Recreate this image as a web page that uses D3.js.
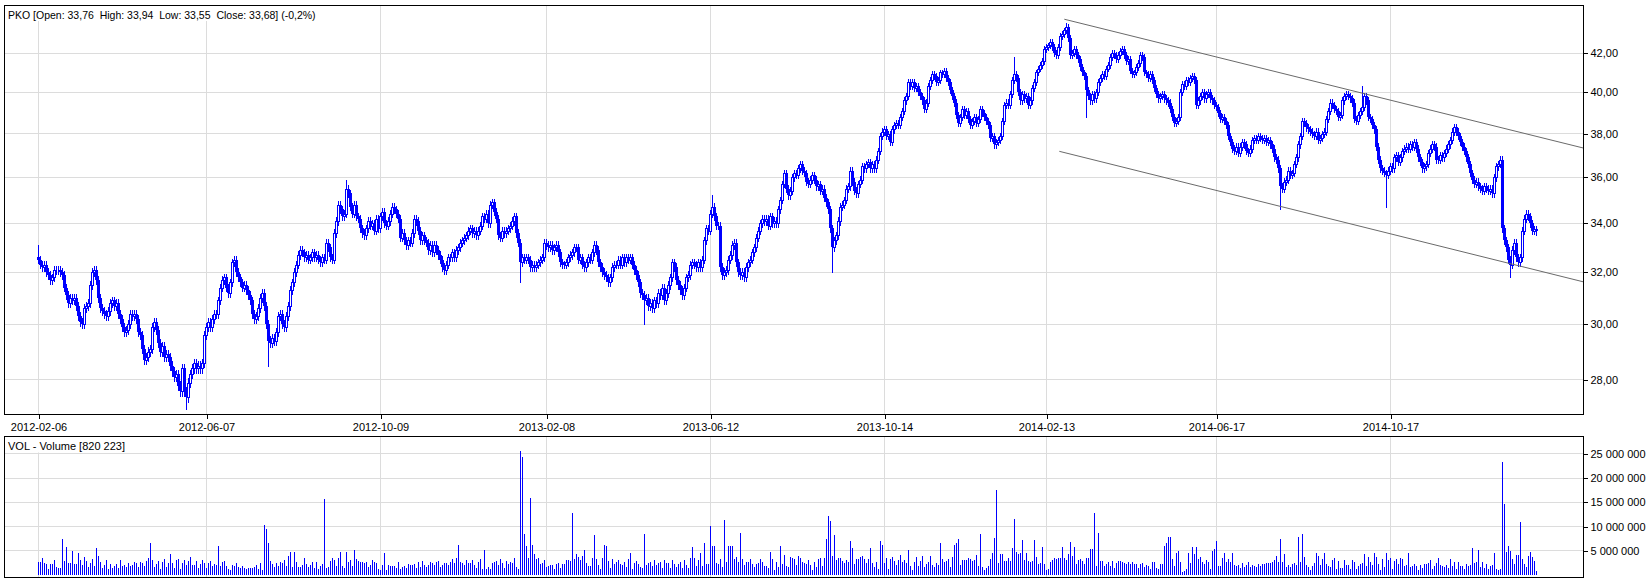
<!DOCTYPE html>
<html>
<head>
<meta charset="utf-8">
<script src="https://cdn.jsdelivr.net/npm/d3@7"></script>
<style>
body { margin: 0; background: #fff; }
text { font-family: "Liberation Sans", Arial, sans-serif; font-size: 11px; fill: #000; }
</style>
</head>
<body>
<svg id="chart" width="1652" height="582"></svg>
<script>
// PKO daily closes, 2012-02-06 .. 2015-01 (one value per trading day)
var closes = [
32.5,32.3,32.2,32.3,32.0,31.9,31.7,31.8,32.1,32.1,
32.1,32.0,31.9,31.4,31.1,30.8,31.0,30.9,31.0,30.7,
30.3,30.1,30.0,30.6,30.7,30.8,31.5,32.0,32.1,31.7,
31.0,30.6,30.5,30.4,30.3,30.5,30.8,30.9,30.7,30.8,
30.4,30.2,29.9,29.7,29.8,30.0,30.4,30.3,30.4,30.2,
29.7,29.6,29.1,28.7,28.8,29.0,29.1,29.9,30.1,29.8,
29.3,29.0,29.2,28.8,28.9,28.8,28.5,28.3,28.1,28.2,
27.8,27.6,28.4,27.6,27.4,27.9,28.2,28.4,28.6,28.4,
28.5,28.4,28.6,29.6,29.9,30.1,29.9,30.2,30.4,30.4,
30.9,31.4,31.7,31.8,31.4,31.2,31.6,32.4,32.5,32.0,
31.8,31.6,31.4,31.5,31.3,31.1,30.9,30.4,30.2,30.3,
30.6,31.0,31.2,30.7,30.0,29.4,29.3,29.5,29.4,29.7,
30.3,30.4,30.0,29.9,30.3,30.7,31.3,31.6,32.0,32.3,
32.7,32.9,32.8,32.6,32.7,32.5,32.6,32.8,32.6,32.7,
32.5,32.4,32.6,32.5,33.2,33.0,32.6,32.5,33.6,34.1,
34.8,34.6,34.3,34.4,35.5,35.3,34.7,34.4,34.8,34.3,
34.2,33.8,33.6,33.5,33.8,34.1,33.9,34.0,33.7,34.2,
33.8,34.3,34.5,34.0,33.9,34.1,34.4,34.7,34.6,34.4,
34.2,33.4,33.6,33.3,33.1,33.3,33.2,33.6,34.2,34.1,
33.7,33.3,33.5,33.3,33.2,32.9,33.1,32.8,33.1,32.9,
32.7,32.5,32.2,32.1,32.3,32.6,32.6,32.8,32.6,32.9,
33.0,33.2,33.3,33.4,33.5,33.7,33.8,33.6,33.7,33.5,
33.7,33.9,34.3,34.2,34.4,34.0,34.8,34.9,34.5,34.2,
33.5,33.4,33.7,33.6,33.7,33.8,33.9,34.1,34.3,33.6,
33.2,32.4,32.6,32.5,32.6,32.5,32.2,32.3,32.2,32.3,
32.4,32.5,32.6,33.2,33.1,33.0,33.1,32.9,33.0,33.1,
32.8,32.4,32.3,32.3,32.4,32.6,32.7,32.8,33.0,33.0,
32.5,32.6,32.3,32.2,32.4,32.6,32.5,32.8,33.1,32.9,
32.4,32.2,32.0,31.9,31.8,31.6,31.8,32.2,32.3,32.3,
32.5,32.3,32.6,32.4,32.6,32.5,32.6,32.3,32.1,31.9,
31.6,31.2,31.1,30.9,31.0,30.7,30.8,30.6,30.9,30.8,
31.2,31.1,31.4,30.9,31.2,31.5,31.8,32.4,32.2,31.7,
31.5,31.3,31.1,31.4,31.8,31.9,32.3,32.4,32.3,32.2,
32.4,32.2,32.5,33.3,33.8,33.7,34.4,34.7,34.3,33.9,
33.9,32.2,31.9,32.0,32.1,32.5,32.7,33.1,33.2,32.4,
32.0,31.9,32.0,31.8,32.2,32.4,32.5,32.8,33.0,33.4,
33.7,34.0,34.2,34.1,34.2,33.9,34.3,34.0,34.1,34.0,
34.6,35.0,35.7,36.2,35.5,35.2,35.4,36.0,36.2,36.1,
36.4,36.6,36.3,36.2,35.8,35.7,35.9,36.1,35.9,35.6,
35.7,35.4,35.5,35.1,34.9,34.6,33.8,33.0,33.3,33.5,
34.1,34.7,34.8,35.0,35.5,35.6,36.3,35.8,35.4,35.3,
35.7,35.9,36.5,36.4,36.6,36.7,36.4,36.6,36.4,36.8,
37.2,37.9,38.1,38.2,37.9,38.0,37.6,38.2,38.4,38.5,
38.4,38.8,39.1,39.6,39.8,40.5,40.3,40.5,40.2,40.3,
40.0,39.8,39.6,39.2,39.5,40.3,40.6,40.9,40.8,40.5,
40.6,41.0,40.9,41.1,40.7,40.5,40.1,39.8,39.5,38.9,
38.5,38.8,39.2,38.9,39.1,38.7,38.4,38.6,38.8,38.5,
38.7,39.2,39.0,38.8,38.6,38.4,37.8,37.9,37.5,37.6,
37.7,37.9,38.6,39.4,39.5,39.4,39.9,40.6,40.9,40.7,
40.0,39.6,39.9,39.7,39.8,39.4,39.6,40.2,40.5,41.0,
41.2,41.4,41.6,42.2,42.3,42.4,42.6,42.3,42.0,41.9,
42.3,42.9,43.0,43.2,43.4,42.8,41.9,42.0,42.2,41.9,
41.7,41.3,41.0,40.8,40.1,39.8,39.6,39.9,39.7,40.0,
40.5,40.7,40.9,40.8,41.2,41.4,41.8,42.0,41.9,41.7,
41.9,42.1,42.2,41.9,41.6,41.7,41.1,40.9,41.0,41.3,
41.5,41.9,41.8,41.0,40.9,40.7,40.9,40.6,40.2,39.9,
39.7,39.8,39.9,39.7,39.6,39.5,39.2,38.8,38.5,38.6,
38.8,40.0,40.4,40.3,40.6,40.5,40.7,40.8,40.6,39.4,
39.6,39.8,40.0,39.7,39.9,40.0,39.7,39.6,39.4,39.3,
39.0,38.7,38.8,38.6,38.4,37.9,37.6,37.3,37.2,37.4,
37.1,37.4,37.6,37.5,37.2,37.1,37.3,37.7,37.8,37.7,
37.9,37.8,37.7,37.8,37.6,37.7,37.5,37.3,36.9,36.8,
36.4,35.6,35.5,35.8,35.9,36.3,36.1,36.2,36.6,36.9,
37.5,37.9,38.6,38.5,38.3,38.2,38.1,38.0,37.9,38.1,
37.7,37.8,38.0,38.1,38.7,39.1,39.5,39.4,39.2,39.1,
38.8,38.9,39.6,39.8,39.9,39.8,39.7,39.5,38.7,38.6,
38.9,39.1,39.3,39.8,39.6,38.8,38.7,38.4,38.2,37.4,
36.8,36.4,36.3,36.2,36.1,36.3,36.5,36.4,36.9,37.0,
36.7,36.9,37.2,37.3,37.4,37.3,37.5,37.4,37.6,37.3,
36.9,36.7,36.4,36.5,36.6,37.1,37.3,37.5,37.4,36.8,
36.8,37.0,36.9,37.1,37.3,37.5,37.7,38.1,38.3,38.1,
37.9,37.6,37.4,37.2,36.9,36.6,36.2,35.9,35.7,35.8,
35.6,35.5,35.4,35.6,35.5,35.4,35.5,35.3,36.0,36.5,
36.6,36.8,33.8,33.3,33.0,32.5,32.3,32.9,33.2,32.6,
32.4,32.6,33.7,34.2,34.4,34.3,34.0,33.7,33.76,33.68
];
var firstOpen = 32.6;

// long shadows that stick out of the candle band
var spikeIdx   = [0, 74, 115, 154, 241, 303, 337, 397, 488, 514, 524, 621, 662, 674, 736];
var spikePrice = [33.1, 27.0, 28.5, 35.9, 31.6, 30.0, 35.2, 32.0, 41.8, 43.6, 38.8, 34.6, 40.3, 34.7, 31.8];

// volume in millions of shares, one per trading day
var volumeMln = [
2.6,2.7,3.5,2.4,2.3,1.2,2.3,2.3,3.0,1.7,1.5,1.5,7.5,2.9,5.8,2.4,2.4,5.0,2.3,2.3,4.6,3.0,2.1,3.7,2.8,
1.6,2.5,3.3,1.9,5.6,3.9,2.6,1.5,2.1,3.1,1.3,2.2,1.4,1.8,2.2,1.4,3.1,1.9,2.1,1.6,2.4,1.9,2.1,2.6,2.4,
1.6,2.7,2.4,1.9,2.8,3.5,6.5,3.1,1.7,2.2,2.8,1.2,2.6,3.3,1.6,2.4,4.3,2.5,1.4,3.0,3.2,1.3,2.4,3.1,2.0,
2.9,3.7,2.1,2.0,2.9,1.4,2.2,3.0,2.5,1.5,2.4,2.9,1.8,2.3,2.0,6.0,1.9,2.6,2.8,1.9,1.2,1.0,2.0,1.9,2.4,
1.6,1.4,1.9,1.5,1.3,1.4,1.5,1.4,1.7,2.0,1.3,2.5,1.0,10.4,9.4,6.5,2.9,2.2,1.6,2.5,1.9,2.6,2.4,3.1,1.8,
3.9,4.7,1.7,4.8,2.6,1.6,1.7,2.0,3.6,2.3,1.6,2.0,2.6,1.4,2.6,1.2,1.9,2.2,15.6,1.5,1.6,2.8,3.6,3.1,1.8,
3.6,4.8,1.9,1.4,4.7,2.6,3.0,1.8,5.2,3.2,2.8,2.6,2.6,2.5,2.7,1.6,2.0,3.0,2.7,2.5,1.3,1.1,2.0,4.6,1.1,
2.0,1.8,1.8,1.9,1.4,2.6,1.3,1.6,1.9,1.5,2.2,2.1,2.1,2.3,1.5,2.7,1.6,2.8,2.1,1.6,2.0,2.6,2.5,2.0,2.7,
2.9,1.6,2.0,2.5,2.5,2.0,2.7,3.2,2.4,3.6,6.2,2.7,2.4,2.0,3.0,2.4,2.5,3.0,2.0,1.4,2.6,3.3,1.2,5.1,1.2,
1.7,1.3,2.4,2.7,2.8,2.1,3.3,2.5,1.5,2.8,2.3,2.6,2.5,3.5,1.7,1.3,25.6,24.4,8.5,5.9,3.5,15.8,6.2,4.4,3.4,
3.6,2.3,2.4,3.1,1.6,1.8,2.0,2.0,1.2,2.3,2.4,1.4,2.2,2.2,3.1,3.1,2.9,12.7,3.2,4.3,3.8,3.1,4.0,5.1,2.4,
1.9,1.8,3.6,8.3,3.4,2.0,1.3,3.5,6.1,6.0,2.8,1.4,3.2,2.3,2.6,3.1,2.2,2.0,2.6,1.6,3.4,4.5,1.2,2.5,2.9,
2.3,1.6,1.4,8.5,2.1,2.4,2.6,1.8,3.1,2.0,2.4,2.7,1.5,3.0,2.4,2.5,1.5,3.0,2.3,1.6,2.2,2.6,1.4,3.1,2.1,
1.5,3.6,5.8,3.5,1.9,3.0,4.6,1.8,6.7,2.3,2.2,10.2,5.9,5.9,2.4,2.2,3.2,1.7,11.3,2.6,5.9,5.9,5.9,3.4,3.7,
2.7,8.7,3.2,2.1,2.6,2.6,3.3,2.2,1.6,2.3,2.5,3.4,2.7,1.8,1.8,1.4,4.8,3.3,1.0,2.7,1.6,6.0,2.2,4.1,1.8,
1.6,3.8,3.6,3.3,2.1,4.0,3.5,2.6,2.4,2.2,3.0,2.1,1.0,2.6,1.7,3.3,3.5,1.9,3.5,7.5,12.1,11.2,4.0,8.3,3.1,
3.5,3.6,2.8,2.4,3.0,2.6,7.1,5.6,2.2,3.4,3.4,3.7,3.9,3.2,2.5,3.2,5.6,2.4,1.6,2.6,1.3,7.1,6.1,2.5,3.5,
1.3,3.4,3.8,2.8,2.1,3.0,4.1,2.6,3.1,2.5,5.2,1.9,1.1,2.7,3.7,1.8,2.8,3.9,1.7,2.3,2.7,3.9,2.0,1.6,2.5,
2.0,6.7,3.4,2.6,2.8,3.2,1.6,3.8,6.2,6.6,7.5,2.0,3.1,3.1,3.0,3.6,3.4,2.8,3.1,4.2,1.8,8.5,1.6,1.0,1.4,
1.8,3.4,4.6,7.7,17.5,2.5,4.3,4.4,2.9,2.9,3.6,2.9,5.6,11.5,4.7,4.4,4.5,7.3,3.0,4.5,2.8,2.7,2.8,7.2,3.8,
2.2,2.5,5.8,2.2,1.0,1.3,2.6,3.1,3.5,3.4,3.6,3.6,5.8,3.6,3.1,4.4,6.9,3.9,5.8,2.3,3.0,3.2,2.9,2.2,3.5,
3.5,5.3,5.3,12.7,1.8,8.7,2.8,2.9,1.8,2.3,2.6,1.9,2.8,1.5,2.4,2.8,2.8,2.7,2.5,2.2,2.7,2.2,2.7,2.3,2.3,
1.4,2.3,2.4,1.6,2.1,1.9,1.3,2.7,2.6,1.5,1.3,2.2,2.2,6.0,6.6,7.8,7.9,3.4,1.8,4.5,4.9,2.6,0.7,0.9,1.2,
4.5,2.5,5.8,4.4,5.8,3.4,3.7,2.7,2.2,3.1,2.7,1.2,5.0,5.4,7.1,1.8,1.8,3.5,4.6,2.6,3.4,2.6,4.6,2.1,1.8,
2.1,1.4,2.4,1.7,2.1,2.6,1.6,2.1,1.8,1.6,2.3,1.9,2.3,2.3,2.4,2.4,2.5,2.6,3.1,3.9,2.6,7.5,2.6,4.4,1.7,
2.0,1.7,2.3,2.4,2.1,7.9,2.6,8.5,3.7,2.0,1.6,1.0,1.9,2.5,4.5,4.0,2.1,3.2,4.6,2.2,1.8,1.6,3.0,3.5,1.3,
2.8,1.5,1.4,3.1,2.0,2.1,1.3,3.0,2.6,1.3,1.9,2.2,2.5,4.3,1.8,3.8,2.7,2.1,4.6,3.7,2.3,1.1,3.4,1.7,4.6,
3.1,3.6,1.3,2.9,3.2,2.3,3.6,3.4,1.8,2.0,4.6,1.7,1.8,2.2,1.8,1.0,2.0,1.5,2.3,2.3,2.4,3.1,1.2,1.8,2.5,
3.6,2.1,1.8,1.6,2.0,1.4,3.2,1.8,2.6,1.2,2.6,1.8,1.8,1.2,2.2,1.8,2.0,5.6,2.4,2.7,5.2,1.7,2.6,1.4,2.2,
1.3,1.8,2.1,4.5,1.3,1.0,1.2,23.3,14.6,4.7,6.0,4.9,3.2,2.2,4.2,4.2,11.0,3.2,2.3,1.7,4.0,4.7,3.8,2.9,0.82
];

// date labels and the trading-day index they sit on
var tickLabels = ["2012-02-06", "2012-06-07", "2012-10-09", "2013-02-08", "2013-06-12",
                  "2013-10-14", "2014-02-13", "2014-06-17", "2014-10-17"];
var tickIndex  = [0, 84, 171, 254, 336, 423, 504, 589, 676];

var priceTicks  = [28, 30, 32, 34, 36, 38, 40, 42];
var volumeTicks = [5, 10, 15, 20, 25];

// falling channel drawn from the 2014 top: [index, price] at both ends
var upperLine = [[512.9, 43.8], [772.5, 37.33]];
var lowerLine = [[510.4, 37.18], [772.5, 31.62]];

var titleText  = "PKO [Open: 33,76  High: 33,94  Low: 33,55  Close: 33,68] (-0,2%)";
var volumeText = "VOL - Volume [820 223]";

var BLUE = "#0000ff";
var GRID = "#dcdcdc";
var wickPad = 0.15;

var svg = d3.select("#chart");
var L = 4.5, R = 1583.5;
var pTop = 5.5, pBot = 414.5, vTop = 436.5, vBot = 577.5;

var n = closes.length;
var x = d3.scaleLinear().domain([0, n - 1]).range([38.5, 38.5 + 2 * (n - 1)]);
var y = d3.scaleLog().domain([26.84, 44.58]).range([414, 5]);
var yv = d3.scaleLinear().domain([0, 28.46]).range([575, 437]);

function crisp(v) {
	return Math.round(v - 0.5) + 0.5;
}

var bars = closes.map(function(c, i) {
	var o = i === 0 ? firstOpen : closes[i - 1];
	return {
		i : i,
		open : o,
		close : c,
		high : Math.max(o, c) + wickPad,
		low : Math.min(o, c) - wickPad
	};
});
spikeIdx.forEach(function(k, j) {
	var p = spikePrice[j];
	if (p > bars[k].high) bars[k].high = p;
	if (p < bars[k].low) bars[k].low = p;
});

// clip path for the price panel
var defs = svg.append("defs");
defs.append("clipPath").attr("id", "clipP").append("rect")
	.attr("x", L).attr("y", pTop).attr("width", R - L).attr("height", pBot - pTop);

// grid
var grid = svg.append("g").attr("stroke", GRID).attr("shape-rendering", "crispEdges");
grid.selectAll(".hp").data(priceTicks).enter().append("line")
	.attr("x1", L).attr("x2", R)
	.attr("y1", function(d) { return crisp(y(d)); })
	.attr("y2", function(d) { return crisp(y(d)); });
grid.selectAll(".hv").data(volumeTicks).enter().append("line")
	.attr("x1", L).attr("x2", R)
	.attr("y1", function(d) { return crisp(yv(d)); })
	.attr("y2", function(d) { return crisp(yv(d)); });
grid.selectAll(".vp").data(tickIndex).enter().append("line")
	.attr("x1", function(d) { return x(d); }).attr("x2", function(d) { return x(d); })
	.attr("y1", pTop).attr("y2", pBot);
grid.selectAll(".vv").data(tickIndex).enter().append("line")
	.attr("x1", function(d) { return x(d); }).attr("x2", function(d) { return x(d); })
	.attr("y1", vTop).attr("y2", vBot);

// panel captions sit on a white box that hides the grid behind them
function caption(txt, tx, ty, boxY, boxH, size) {
	var box = svg.append("rect").attr("fill", "#fff").attr("y", boxY).attr("height", boxH).attr("x", L + 0.5);
	var t = svg.append("text").attr("x", tx).attr("y", ty).attr("xml:space", "preserve")
		.style("font-size", size + "px").text(txt);
	box.attr("width", t.node().getComputedTextLength() + (tx - L) + 3);
}
caption(titleText, 8, 18.5, 6, 15, 10.5);
caption(volumeText, 8, 450, 437, 15.5, 11);

// candles
var candles = svg.append("g").attr("clip-path", "url(#clipP)").attr("shape-rendering", "crispEdges");
candles.selectAll(".wick").data(bars).enter().append("line")
	.attr("x1", function(d) { return x(d.i); })
	.attr("x2", function(d) { return x(d.i); })
	.attr("y1", function(d) { return Math.round(y(d.high)); })
	.attr("y2", function(d) { return Math.round(y(d.low)) + 1; })
	.attr("stroke", BLUE);
candles.selectAll(".body").data(bars).enter().append("rect")
	.attr("x", function(d) { return d.close >= d.open ? x(d.i) - 1 : x(d.i) - 1.5; })
	.attr("width", function(d) { return d.close >= d.open ? 2 : 3; })
	.attr("y", function(d) {
		var top = Math.round(y(Math.max(d.open, d.close)));
		return d.close >= d.open ? top + 0.5 : top;
	})
	.attr("height", function(d) {
		var h = Math.round(y(Math.min(d.open, d.close))) - Math.round(y(Math.max(d.open, d.close)));
		return d.close >= d.open ? Math.max(h, 0) : Math.max(h, 1);
	})
	.attr("fill", function(d) { return d.close >= d.open ? "#fff" : BLUE; })
	.attr("stroke", function(d) { return d.close >= d.open ? BLUE : "none"; });

// channel lines
var tl = d3.line()
	.x(function(d) { return x(d[0]); })
	.y(function(d) { return y(d[1]); });
svg.append("g").attr("clip-path", "url(#clipP)").selectAll("path").data([upperLine, lowerLine]).enter().append("path")
	.attr("d", tl).attr("fill", "none").attr("stroke", "#6a6a6a").attr("stroke-width", 1);

// volume bars
svg.append("g").attr("shape-rendering", "crispEdges").selectAll("line").data(volumeMln).enter().append("line")
	.attr("x1", function(d, i) { return x(i); })
	.attr("x2", function(d, i) { return x(i); })
	.attr("y1", yv(0))
	.attr("y2", function(d) { return Math.round(yv(d)); })
	.attr("stroke", BLUE);

// axes
function styleAxis(g) {
	g.select(".domain").remove();
	g.selectAll("text").attr("font-family", null).attr("font-size", null).style("fill", "#000");
	g.selectAll(".tick line").attr("stroke", "#000").attr("shape-rendering", "crispEdges");
	g.attr("font-family", null).attr("font-size", null);
}
svg.append("g").attr("transform", "translate(" + R + ",0)")
	.call(d3.axisRight(y).tickValues(priceTicks).tickSize(4).tickPadding(3)
		.tickFormat(function(d) { return d3.format(".2f")(d).replace(".", ","); }))
	.call(styleAxis);
svg.append("g").attr("transform", "translate(" + R + ",0)")
	.call(d3.axisRight(yv).tickValues(volumeTicks).tickSize(4).tickPadding(3)
		.tickFormat(function(d) { return d3.format(",")(d * 1e6).replace(/,/g, " "); }))
	.call(styleAxis);
svg.append("g").attr("transform", "translate(0," + pBot + ")")
	.call(d3.axisBottom(x).tickValues(tickIndex).tickSize(4).tickPadding(5)
		.tickFormat(function(d, i) { return tickLabels[i]; }))
	.call(styleAxis);

// panel frames
svg.append("rect").attr("x", L).attr("y", pTop).attr("width", R - L).attr("height", pBot - pTop)
	.attr("fill", "none").attr("stroke", "#000").attr("shape-rendering", "crispEdges");
svg.append("rect").attr("x", L).attr("y", vTop).attr("width", R - L).attr("height", vBot - vTop)
	.attr("fill", "none").attr("stroke", "#000").attr("shape-rendering", "crispEdges");
</script>
</body>
</html>
